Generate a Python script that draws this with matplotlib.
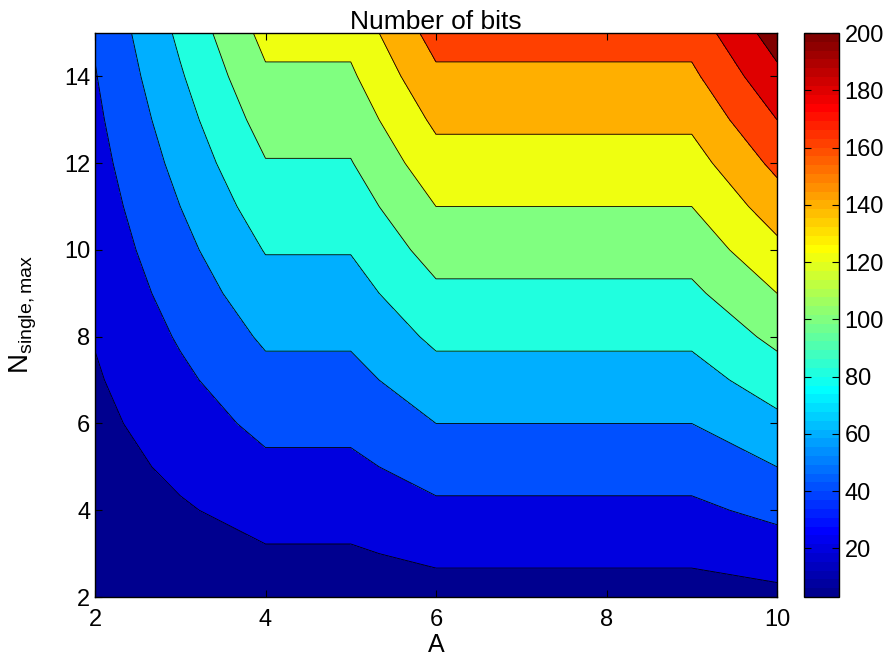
import numpy as np
import matplotlib
matplotlib.use("Agg")
import matplotlib.pyplot as plt
from matplotlib.colors import ListedColormap, Normalize
from matplotlib.cm import ScalarMappable

plt.rcParams['font.family'] = ['Liberation Sans', 'DejaVu Sans']
plt.rcParams['mathtext.fontset'] = 'custom'
plt.rcParams['mathtext.rm'] = 'Liberation Sans'

# grid
A_vals = [2, 3, 4, 5, 6, 7, 8, 9, 10]
N_vals = [2, 3, 4, 5, 6, 7, 8, 9, 10, 11, 12, 13, 14, 15]

# number of bits, one row per N, one column per A
bits = [
    [3, 6, 9, 9, 12, 12, 12, 12, 15],
    [6, 12, 18, 18, 24, 24, 24, 24, 30],
    [9, 18, 27, 27, 36, 36, 36, 36, 45],
    [12, 24, 36, 36, 48, 48, 48, 48, 60],
    [15, 30, 45, 45, 60, 60, 60, 60, 75],
    [18, 36, 54, 54, 72, 72, 72, 72, 90],
    [21, 42, 63, 63, 84, 84, 84, 84, 105],
    [24, 48, 72, 72, 96, 96, 96, 96, 120],
    [27, 54, 81, 81, 108, 108, 108, 108, 135],
    [30, 60, 90, 90, 120, 120, 120, 120, 150],
    [33, 66, 99, 99, 132, 132, 132, 132, 165],
    [36, 72, 108, 108, 144, 144, 144, 144, 180],
    [39, 78, 117, 117, 156, 156, 156, 156, 195],
    [42, 84, 126, 126, 168, 168, 168, 168, 210],
]

levels = [20, 40, 60, 80, 100, 120, 140, 160, 180, 200]
x_ticks = [2, 4, 6, 8, 10]
y_ticks = [2, 4, 6, 8, 10, 12, 14]
cbar_ticks = [20, 40, 60, 80, 100, 120, 140, 160, 180, 200]


def matlab_jet(m=64):
    # same construction as MATLAB's jet(m)
    n = int(np.ceil(m / 4))
    u = np.concatenate([np.arange(1, n + 1) / n, np.ones(n - 1), np.arange(n, 0, -1) / n])
    g = int(np.ceil(n / 2)) - (1 if m % 4 == 1 else 0) + np.arange(1, len(u) + 1)
    r = g + n
    b = g - n
    g = g[g <= m]
    r = r[r <= m]
    b = b[b >= 1]
    J = np.zeros((m, 3))
    J[r - 1, 0] = u[:len(r)]
    J[g - 1, 1] = u[:len(g)]
    J[b - 1, 2] = u[len(u) - len(b):]
    return ListedColormap(J)


Z = np.array(bits, dtype=float)
zmin, zmax = Z.min(), Z.max()
cmap = matlab_jet(64)
norm = Normalize(vmin=zmin, vmax=levels[-1])

# MATLAB-style fill: each band coloured by its lower bound
fill_levels = [zmin] + levels + [zmax + 1]
band_vals = [zmin] + levels
band_colors = [cmap(norm(v)) for v in band_vals]

fig = plt.figure(figsize=(8.93, 6.63), dpi=100)
ax = fig.add_axes([95 / 893, 66 / 663, 682 / 893, 564 / 663])
ax.contourf(A_vals, N_vals, Z, levels=fill_levels, colors=band_colors)
ax.contour(A_vals, N_vals, Z, levels=levels, colors='k', linewidths=0.6)

ax.set_xlim(2, 10)
ax.set_ylim(2, 15)
ax.set_xticks(x_ticks)
ax.set_yticks(y_ticks)
ax.tick_params(direction='in', top=True, right=True, labelsize=17, length=5, width=0.8)
ax.tick_params(axis='x', pad=9)
for s in ax.spines.values():
    s.set_linewidth(1.0)
ax.set_title('Number of bits', fontsize=19, pad=3)
ax.set_xlabel('A', fontsize=18, labelpad=1)
ax.set_ylabel(r'$\mathrm{N_{single,max}}$', fontsize=20, labelpad=18)

cax = fig.add_axes([804 / 893, 66 / 663, 35 / 893, 564 / 663])
sm = ScalarMappable(norm=norm, cmap=cmap)
cb = fig.colorbar(sm, cax=cax, ticks=cbar_ticks)
cb.outline.set_linewidth(1.0)
cax.tick_params(direction='in', left=True, right=True, labelsize=17, length=5, width=0.8, pad=4)

fig.savefig('out.png', dpi=100)
